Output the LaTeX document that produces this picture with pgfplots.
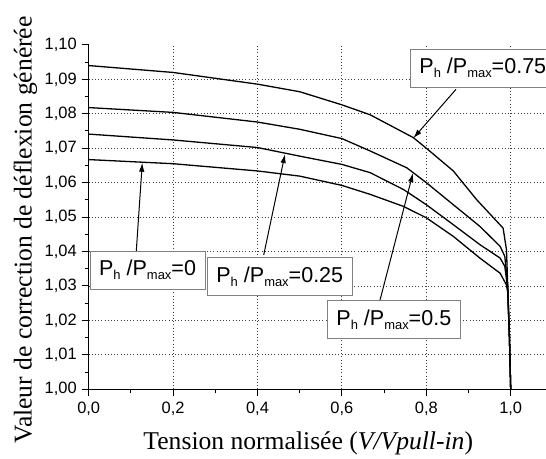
\documentclass[border=0pt]{standalone}
\usepackage{fontspec}
\setmainfont{Liberation Serif}
\newfontfamily\arial{Liberation Sans}
\usepackage{pgfplots}
\pgfplotsset{compat=1.18}
\usetikzlibrary{arrows.meta}
\newcommand{\subs}[1]{\raisebox{-4bp}{\fontsize{13}{13}\selectfont #1}}
\newcommand{\lab}[1]{P\subs{h} /P\subs{max}=#1}
\begin{document}
\begin{tikzpicture}
\useasboundingbox (-88.7bp,-69.7bp) rectangle (457.3bp,389.3bp);
\begin{axis}[
  scale only axis, width=457.45bp, height=344.4bp,
  xmin=0, xmax=1.084, ymin=1.0, ymax=1.10,
  axis x line*=bottom, axis y line*=left,
  axis line style={line width=1.3bp},
  xtick={0,0.2,0.4,0.6,0.8,1.0},
  xticklabels={{0,0},{0,2},{0,4},{0,6},{0,8},{1,0}},
  minor xtick={0.1,0.3,0.5,0.7,0.9},
  ytick={1.00,1.01,1.02,1.03,1.04,1.05,1.06,1.07,1.08,1.09},
  yticklabels={{1,00},{1,01},{1,02},{1,03},{1,04},{1,05},{1,06},{1,07},{1,08},{1,09}},
  minor ytick={1.005,1.015,1.025,1.035,1.045,1.055,1.065,1.075,1.085,1.095},
  extra y ticks={1.10}, extra y tick labels={1{,}10},
  extra y tick style={grid=none},
  tick align=outside,
  major tick length=7bp, minor tick length=4bp,
  tick style={line width=1bp, black},
  grid=major,
  major grid style={line width=0.9bp, black!75, dash pattern=on 0.9bp off 2.3bp},
  ticklabel style={font=\arial\fontsize{16.5}{16.5}\selectfont},
  xticklabel style={yshift=-2bp},
  yticklabel style={xshift=-1.5bp},
  xlabel={Tension normalisée (\textit{V/Vpull-in})},
  ylabel={Valeur de correction de déflexion générée},
  label style={font=\fontsize{25.7}{26}\selectfont},
  xlabel style={at={(axis description cs:0.48,-0.176)}, anchor=base},
  ylabel style={at={(axis description cs:-0.1245,0.4625)}, anchor=base},
  clip=false,
]
% P_h/P_max = 0.75
\addplot[black, line width=1.3bp, no marks] coordinates {(0,1.0940) (0.2,1.0920) (0.4,1.0886) (0.5,1.0864) (0.6,1.0826) (0.667,1.0797) (0.769,1.0731) (0.8,1.0700) (0.864,1.0634) (0.919,1.0551) (0.982,1.0468) (0.990,1.0405) (0.993,1.0298) (0.997,1.015) (1.0,1.0)};
% P_h/P_max = 0.5
\addplot[black, line width=1.3bp, no marks] coordinates {(0,1.0818) (0.2,1.0804) (0.4,1.0776) (0.5,1.0755) (0.6,1.0728) (0.667,1.0692) (0.754,1.0643) (0.8,1.0600) (0.864,1.0536) (0.927,1.0473) (0.975,1.0415) (0.986,1.0386) (0.993,1.0300) (0.997,1.015) (1.0,1.0)};
% P_h/P_max = 0.25
\addplot[black, line width=1.3bp, no marks] coordinates {(0,1.0741) (0.2,1.0724) (0.4,1.0702) (0.5,1.0677) (0.6,1.0653) (0.667,1.0629) (0.746,1.0580) (0.8,1.0536) (0.864,1.0478) (0.927,1.0420) (0.975,1.0381) (0.986,1.0357) (0.993,1.0290) (0.997,1.015) (1.0,1.0)};
% P_h/P_max = 0
\addplot[black, line width=1.3bp, no marks] coordinates {(0,1.0667) (0.2,1.0655) (0.4,1.0634) (0.5,1.0619) (0.6,1.0592) (0.667,1.0566) (0.746,1.0531) (0.8,1.0498) (0.864,1.0444) (0.927,1.0381) (0.975,1.0337) (0.990,1.0303) (0.993,1.0280) (0.997,1.015) (1.0,1.0)};

\tikzset{lbox/.style={draw={rgb,255:red,128;green,128;blue,128}, line width=0.8bp, fill=white, inner xsep=9bp, inner ysep=0bp, minimum height=38bp, anchor=west, font=\arial\fontsize{21.6}{22}\selectfont}}
\node[lbox] at (axis cs:0.7614,1.0933) {\lab{0.75}};
\node[lbox] at (axis cs:0.0024,1.0346) {\lab{0}};
\node[lbox] at (axis cs:0.2803,1.0328) {\lab{0.25}};
\node[lbox] at (axis cs:0.5647,1.0203) {\lab{0.5}};

\tikzset{arr/.style={line width=1bp, -{Latex[length=9bp,width=5.5bp]}}}
\draw[arr] (axis cs:0.8704,1.0871) -- (axis cs:0.7692,1.0729);
\draw[arr] (axis cs:0.1128,1.0402) -- (axis cs:0.1270,1.0658);
\draw[arr] (axis cs:0.4147,1.0390) -- (axis cs:0.4652,1.0683);
\draw[arr] (axis cs:0.6903,1.0259) -- (axis cs:0.7685,1.0628);
\end{axis}
\end{tikzpicture}
\end{document}
